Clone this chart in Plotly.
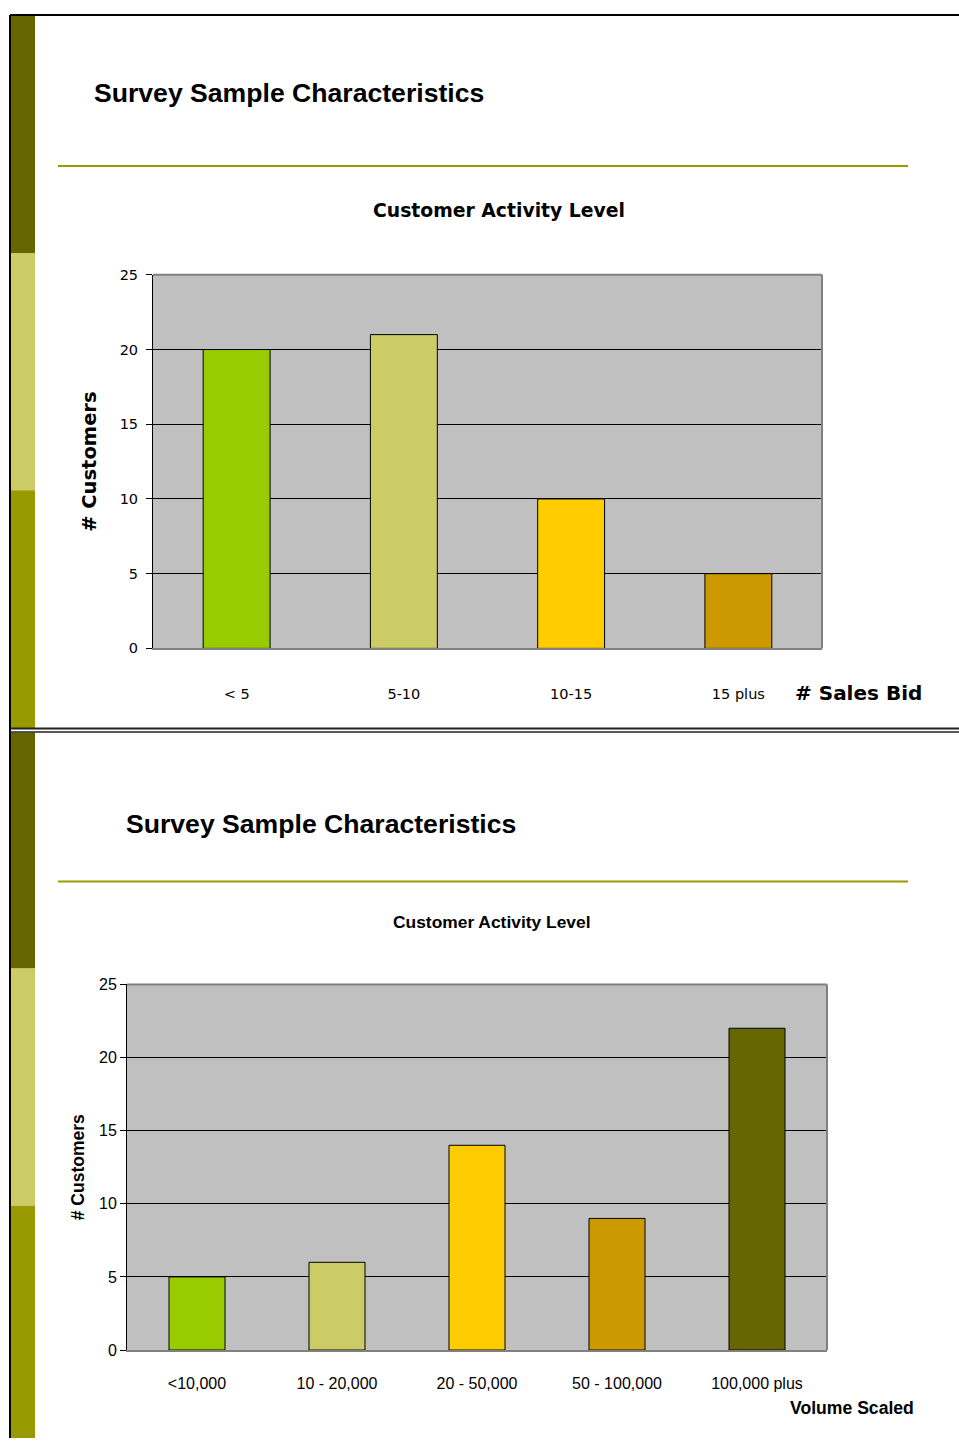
import plotly.graph_objects as go

W, H = 959, 1447

# Chart 1: activity level by number of sales bids
bid_labels = ["< 5", "5-10", "10-15", "15 plus"]
bid_counts = [20, 21, 10, 5]
bid_colors = ["#99CC00", "#CCCC66", "#FFCC00", "#CC9900"]

# Chart 2: activity level by scaled volume
vol_labels = ["<10,000", "10 - 20,000", "20 - 50,000", "50 - 100,000", "100,000 plus"]
vol_counts = [5, 6, 14, 9, 22]
vol_colors = ["#99CC00", "#CCCC66", "#FFCC00", "#CC9900", "#666600"]

y_ticks = [0, 5, 10, 15, 20, 25]


def px(x):
    return x / W


def py(y):
    return 1 - y / H


FONT = "Liberation Sans, Arial, sans-serif"
WIDE = "DejaVu Sans, sans-serif"

fig = go.Figure()

fig.add_trace(go.Bar(
    x=bid_labels, y=bid_counts, marker=dict(color=bid_colors, line=dict(color="#000000", width=1)),
    width=0.4, xaxis="x", yaxis="y", showlegend=False, hoverinfo="x+y",
))
fig.add_trace(go.Bar(
    x=vol_labels, y=vol_counts, marker=dict(color=vol_colors, line=dict(color="#000000", width=1)),
    width=0.4, xaxis="x2", yaxis="y2", showlegend=False, hoverinfo="x+y",
))

fig.update_layout(
    width=W, height=H,
    margin=dict(l=0, r=0, t=0, b=0),
    paper_bgcolor="#FFFFFF",
    plot_bgcolor="#C0C0C0",
    font=dict(family=FONT, color="#000000"),
    xaxis=dict(
        domain=[px(153), px(822)], anchor="y", showgrid=False, zeroline=False, fixedrange=True,
        showline=True, linecolor="#808080", linewidth=2,
        ticks="", ticklabelstandoff=31,
        tickfont=dict(size=14.5, family=WIDE),
    ),
    yaxis=dict(
        domain=[py(648), py(270)], anchor="x", range=[0, 25], zeroline=False, fixedrange=True,
        tickvals=y_ticks, showgrid=True, gridcolor="#000000", gridwidth=1,
        showline=True, linecolor="#000000", linewidth=1,
        ticks="outside", ticklen=6, tickcolor="#000000", ticklabelstandoff=5,
        tickfont=dict(size=14.5, family=WIDE),
        title=dict(text="<b># Customers</b>", font=dict(size=19.5, family=WIDE), standoff=17),
    ),
    xaxis2=dict(
        domain=[px(127), px(827)], anchor="y2", showgrid=False, zeroline=False, fixedrange=True,
        showline=True, linecolor="#808080", linewidth=2,
        ticks="", ticklabelstandoff=18,
        tickfont=dict(size=16),
    ),
    yaxis2=dict(
        domain=[py(1358), py(988)], anchor="x2", range=[0, 25], zeroline=False, fixedrange=True,
        tickvals=y_ticks, showgrid=True, gridcolor="#000000", gridwidth=1,
        showline=True, linecolor="#000000", linewidth=1,
        ticks="outside", ticklen=6, tickcolor="#000000",
        tickfont=dict(size=16),
        title=dict(text="<b># Customers</b>", font=dict(size=17.5), standoff=9),
    ),
)

shapes = []

# slide side strips
strip = [
    (8, 248, "#666600"), (248, 488, "#CCCC66"), (488, 729, "#999900"),
    (733, 972, "#666600"), (972, 1212, "#CCCC66"), (1212, 1447, "#999900"),
]
for y0, y1, c in strip:
    shapes.append(dict(type="rect", xref="paper", yref="paper", x0=px(11), x1=px(35),
                       y0=py(y1), y1=py(y0), fillcolor=c, line=dict(width=0), layer="below"))

# slide frame lines
frame_line = dict(color="#000000", width=2)
shapes.append(dict(type="line", xref="paper", yref="paper", x0=px(10), x1=1, y0=py(7), y1=py(7), line=frame_line))
shapes.append(dict(type="line", xref="paper", yref="paper", x0=px(10), x1=px(10), y0=0, y1=py(7), line=frame_line))
shapes.append(dict(type="line", xref="paper", yref="paper", x0=px(10), x1=1, y0=py(729), y1=py(729),
                   line=dict(color="#222222", width=2)))
shapes.append(dict(type="line", xref="paper", yref="paper", x0=px(10), x1=1, y0=py(732.5), y1=py(732.5),
                   line=dict(color="#222222", width=1.5)))

# title rules
for yy in (160, 884):
    shapes.append(dict(type="line", xref="paper", yref="paper", x0=px(58), x1=px(908), y0=py(yy), y1=py(yy),
                       line=dict(color="#999900", width=2)))

# plot borders (gray top/right)
for (x0, x1, y0, y1) in ((153, 822, 270, 648), (127, 827, 988, 1358)):
    shapes.append(dict(type="line", xref="paper", yref="paper", x0=px(x0), x1=px(x1), y0=py(y0), y1=py(y0),
                       line=dict(color="#808080", width=2)))
    shapes.append(dict(type="line", xref="paper", yref="paper", x0=px(x1), x1=px(x1), y0=py(y1), y1=py(y0),
                       line=dict(color="#808080", width=2)))

fig.update_layout(shapes=shapes)

annotations = [
    dict(text="<b>Survey Sample Characteristics</b>", x=px(92), y=py(86), xanchor="left", yanchor="middle",
         font=dict(size=26.6)),
    dict(text="<b>Customer Activity Level</b>", x=px(499), y=py(205), xanchor="center", yanchor="middle",
         font=dict(size=18.8, family=WIDE)),
    dict(text="<b># Sales Bid</b>", x=px(793), y=py(693), xanchor="left", yanchor="middle",
         font=dict(size=20, family=WIDE)),
    dict(text="<b>Survey Sample Characteristics</b>", x=px(124), y=py(826), xanchor="left", yanchor="middle",
         font=dict(size=26.6)),
    dict(text="<b>Customer Activity Level</b>", x=px(491), y=py(925), xanchor="center", yanchor="middle",
         font=dict(size=17.4)),
    dict(text="<b>Volume Scaled</b>", x=px(916), y=py(1417), xanchor="right", yanchor="middle",
         font=dict(size=17.6)),
]
for a in annotations:
    a.update(xref="paper", yref="paper", showarrow=False)
fig.update_layout(annotations=annotations)

fig.write_html("out.html")
